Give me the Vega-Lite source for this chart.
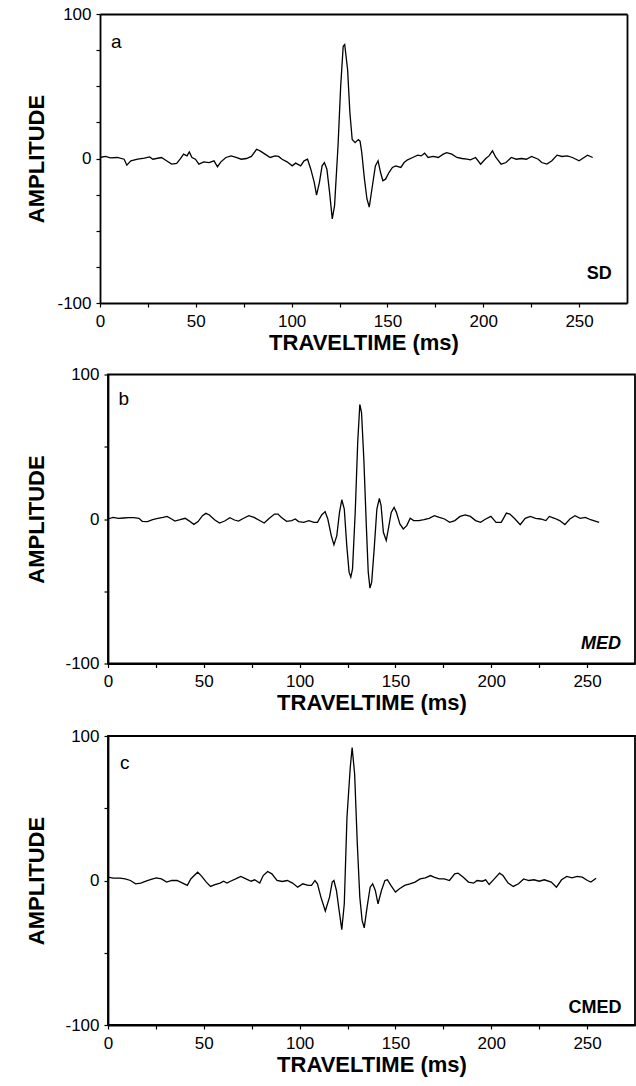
{
  "$schema": "https://vega.github.io/schema/vega-lite/v6.json",
  "background": "white",
  "padding": {"left": 24, "top": 5, "right": 2, "bottom": 3},
  "spacing": 11.5,
  "config": {
    "view": {"stroke": "black", "strokeWidth": 1.8},
    "axis": {
      "grid": false,
      "domainColor": "black", "domainWidth": 1.8,
      "tickColor": "black", "tickWidth": 1.2, "tickSize": 4,
      "labelFont": "Liberation Sans", "labelFontSize": 17, "labelColor": "black",
      "titleFont": "Liberation Sans", "titleFontSize": 22, "titleFontWeight": "bold", "titleColor": "black"
    },
    "text": {"font": "Liberation Sans", "color": "black"}
  },
  "datasets": {
    "sd": [
      {"t":0,"a":0.7},{"t":2.8,"a":1.4},{"t":5.5,"a":0.5},{"t":9.0,"a":0.7},{"t":12.6,"a":-0.5},{"t":14.0,"a":-4.6},{"t":16.1,"a":-1.6},{"t":19.7,"a":-0.5},{"t":23.2,"a":0.2},{"t":25.9,"a":1.1},{"t":27.6,"a":-0.5},{"t":29.4,"a":0},{"t":32.1,"a":0.7},{"t":34.7,"a":-1.6},{"t":37.4,"a":-3.9},{"t":40.0,"a":-3.4},{"t":41.8,"a":-0.5},{"t":43.6,"a":3.0},{"t":45.4,"a":1.8},{"t":46.6,"a":4.6},{"t":48.0,"a":0.7},{"t":49.8,"a":-0.5},{"t":51.6,"a":-3.9},{"t":54.2,"a":-2.3},{"t":56.9,"a":-2.8},{"t":59.5,"a":-1.6},{"t":61.3,"a":-5.7},{"t":63.1,"a":-2.3},{"t":65.7,"a":0.7},{"t":68.4,"a":1.8},{"t":71.0,"a":0.7},{"t":73.7,"a":-0.5},{"t":76.4,"a":0},{"t":79.0,"a":1.4},{"t":81.7,"a":6.4},{"t":83.5,"a":5.3},{"t":86.1,"a":3.0},{"t":88.8,"a":0.7},{"t":91.4,"a":1.8},{"t":93.2,"a":1.4},{"t":95.0,"a":-0.5},{"t":97.6,"a":-2.3},{"t":100.3,"a":-5.1},{"t":102.1,"a":-3.2},{"t":104.7,"a":-5.1},{"t":106.5,"a":-1.6},{"t":108.3,"a":-0.5},{"t":110.0,"a":-7.4},{"t":111.8,"a":-16.5},{"t":113.0,"a":-25.3},{"t":114.5,"a":-16.5},{"t":115.9,"a":-5.1},{"t":117.1,"a":-2.8},{"t":118.4,"a":-7.4},{"t":119.8,"a":-23.4},{"t":121.2,"a":-41.8},{"t":122.4,"a":-32.6},{"t":124.2,"a":8.7},{"t":125.6,"a":50.1},{"t":126.9,"a":77.7},{"t":127.7,"a":78.9},{"t":129.2,"a":61.6},{"t":130.4,"a":31.7},{"t":131.6,"a":13.1},{"t":133.1,"a":11.0},{"t":134.8,"a":13.1},{"t":135.7,"a":12.0},{"t":136.6,"a":4.1},{"t":138.0,"a":-14.3},{"t":139.3,"a":-28.0},{"t":140.5,"a":-33.6},{"t":141.9,"a":-21.1},{"t":143.7,"a":-5.1},{"t":145.1,"a":-1.6},{"t":146.4,"a":-9.7},{"t":147.6,"a":-15.4},{"t":149.0,"a":-14.3},{"t":150.8,"a":-9.7},{"t":152.6,"a":-6.2},{"t":154.3,"a":-5.1},{"t":157.0,"a":-6.2},{"t":158.7,"a":-2.8},{"t":160.5,"a":-0.9},{"t":163.2,"a":0.7},{"t":165.8,"a":2.3},{"t":167.6,"a":1.8},{"t":169.4,"a":3.7},{"t":171.2,"a":0.7},{"t":173.8,"a":1.4},{"t":176.5,"a":0.7},{"t":179.1,"a":3.0},{"t":180.9,"a":4.1},{"t":183.6,"a":3.0},{"t":186.2,"a":0.7},{"t":188.9,"a":0},{"t":191.5,"a":-0.5},{"t":193.3,"a":-0.9},{"t":196.0,"a":0.7},{"t":198.6,"a":-3.9},{"t":201.3,"a":0},{"t":203.0,"a":1.8},{"t":204.8,"a":5.3},{"t":206.6,"a":0.7},{"t":209.3,"a":-3.9},{"t":211.9,"a":-2.8},{"t":214.6,"a":0.7},{"t":217.2,"a":-0.5},{"t":219.9,"a":0},{"t":222.5,"a":-0.5},{"t":225.2,"a":1.4},{"t":228.7,"a":-0.5},{"t":230.5,"a":-2.8},{"t":233.2,"a":-3.9},{"t":235.8,"a":-1.6},{"t":238.5,"a":2.3},{"t":241.1,"a":1.4},{"t":243.8,"a":1.8},{"t":246.5,"a":0.7},{"t":250.0,"a":-1.6},{"t":251.8,"a":0},{"t":254.4,"a":2.3},{"t":257.1,"a":0.7}
    ],
    "med": [
      {"t":0,"a":0},{"t":2.7,"a":1.1},{"t":5.4,"a":0.5},{"t":8.1,"a":0.7},{"t":10.8,"a":0.9},{"t":13.4,"a":0.9},{"t":16.1,"a":0.5},{"t":17.9,"a":-1.6},{"t":20.6,"a":-1.8},{"t":23.3,"a":-0.5},{"t":26.0,"a":0.5},{"t":28.7,"a":1.1},{"t":30.8,"a":1.8},{"t":33.2,"a":0},{"t":34.9,"a":-1.4},{"t":37.6,"a":-0.5},{"t":40.3,"a":0.5},{"t":42.1,"a":-1.1},{"t":44.8,"a":-3.7},{"t":47.0,"a":-1.8},{"t":49.3,"a":2.3},{"t":51.1,"a":3.9},{"t":52.9,"a":2.8},{"t":55.6,"a":-0.5},{"t":58.2,"a":-2.8},{"t":60.9,"a":-1.4},{"t":63.6,"a":0.9},{"t":66.0,"a":-0.7},{"t":68.1,"a":-1.4},{"t":70.8,"a":0.5},{"t":73.5,"a":2.3},{"t":76.2,"a":1.1},{"t":78.9,"a":-0.9},{"t":81.5,"a":-2.8},{"t":84.2,"a":0.5},{"t":86.9,"a":3.4},{"t":88.7,"a":3.4},{"t":90.5,"a":1.1},{"t":93.2,"a":-1.6},{"t":95.9,"a":-1.1},{"t":97.7,"a":0},{"t":99.5,"a":-1.8},{"t":102.2,"a":-2.3},{"t":104.8,"a":-1.1},{"t":107.5,"a":-2.3},{"t":109.3,"a":-2.3},{"t":111.5,"a":2.8},{"t":113.3,"a":5.1},{"t":114.7,"a":0},{"t":116.5,"a":-11.5},{"t":117.9,"a":-17.9},{"t":119.4,"a":-11.5},{"t":120.8,"a":4.6},{"t":122.0,"a":13.3},{"t":123.3,"a":6.9},{"t":124.6,"a":-18.4},{"t":125.8,"a":-36.8},{"t":126.7,"a":-40.2},{"t":127.6,"a":-34.5},{"t":129.0,"a":4.6},{"t":130.3,"a":52.9},{"t":131.4,"a":79.3},{"t":132.3,"a":73.6},{"t":133.5,"a":41.4},{"t":134.8,"a":-4.6},{"t":135.8,"a":-36.8},{"t":136.7,"a":-47.8},{"t":137.6,"a":-43.7},{"t":138.9,"a":-20.7},{"t":140.3,"a":6.9},{"t":141.6,"a":14.3},{"t":142.5,"a":9.2},{"t":143.7,"a":-9.2},{"t":145.2,"a":-14.9},{"t":146.6,"a":-4.6},{"t":147.8,"a":4.6},{"t":149.3,"a":8.0},{"t":150.5,"a":4.6},{"t":152.3,"a":-3.4},{"t":154.1,"a":-6.9},{"t":155.9,"a":-4.6},{"t":157.7,"a":0.5},{"t":159.5,"a":-1.1},{"t":162.2,"a":-1.1},{"t":164.9,"a":-0.5},{"t":167.6,"a":0.5},{"t":170.3,"a":2.3},{"t":172.9,"a":1.1},{"t":175.6,"a":0},{"t":178.3,"a":-2.3},{"t":181.0,"a":-1.1},{"t":183.7,"a":1.8},{"t":186.4,"a":2.8},{"t":189.1,"a":1.8},{"t":191.8,"a":-1.1},{"t":194.4,"a":-2.3},{"t":197.1,"a":0},{"t":199.8,"a":1.8},{"t":202.5,"a":-2.3},{"t":205.2,"a":-2.3},{"t":207.9,"a":4.1},{"t":209.7,"a":3.4},{"t":212.4,"a":0},{"t":215.1,"a":-3.9},{"t":217.7,"a":0.5},{"t":220.4,"a":1.8},{"t":223.1,"a":0.5},{"t":225.8,"a":0},{"t":228.5,"a":-1.1},{"t":230.3,"a":1.8},{"t":233.0,"a":0.5},{"t":235.7,"a":-1.1},{"t":238.4,"a":-3.9},{"t":241.0,"a":0},{"t":243.7,"a":2.3},{"t":246.4,"a":0.5},{"t":249.1,"a":1.1},{"t":251.8,"a":-0.5},{"t":256.3,"a":-2.3}
    ],
    "cmed": [
      {"t":0,"a":2.3},{"t":2.7,"a":1.6},{"t":6.3,"a":1.6},{"t":9.0,"a":1.1},{"t":11.7,"a":0},{"t":14.4,"a":-2.3},{"t":17.1,"a":-1.8},{"t":19.8,"a":-0.5},{"t":22.5,"a":0.7},{"t":25.2,"a":1.8},{"t":27.9,"a":1.1},{"t":30.6,"a":-1.1},{"t":33.3,"a":0},{"t":36.0,"a":0},{"t":38.7,"a":-1.6},{"t":41.4,"a":-3.4},{"t":43.2,"a":1.1},{"t":45.0,"a":3.4},{"t":46.8,"a":5.7},{"t":48.6,"a":3.4},{"t":51.3,"a":-1.1},{"t":53.5,"a":-4.1},{"t":55.8,"a":-2.8},{"t":58.5,"a":-1.8},{"t":60.3,"a":-0.5},{"t":62.1,"a":-1.8},{"t":63.9,"a":-0.5},{"t":66.6,"a":1.1},{"t":69.3,"a":2.8},{"t":72.0,"a":1.1},{"t":74.7,"a":-0.5},{"t":76.5,"a":0.5},{"t":79.2,"a":-1.8},{"t":81.0,"a":3.4},{"t":83.3,"a":6.2},{"t":85.5,"a":4.6},{"t":88.2,"a":0},{"t":90.9,"a":-0.7},{"t":93.6,"a":0},{"t":96.3,"a":-1.8},{"t":99.0,"a":-4.6},{"t":101.7,"a":-2.3},{"t":104.4,"a":-3.4},{"t":106.2,"a":-3.4},{"t":108.0,"a":0},{"t":109.3,"a":-2.3},{"t":111.1,"a":-11.5},{"t":113.4,"a":-21.1},{"t":115.6,"a":-11.5},{"t":117.0,"a":-1.1},{"t":117.9,"a":0},{"t":119.2,"a":-6.9},{"t":120.6,"a":-20.7},{"t":122.0,"a":-34.0},{"t":123.3,"a":-16.1},{"t":124.7,"a":43.6},{"t":126.4,"a":78.0},{"t":127.4,"a":92.0},{"t":128.7,"a":73.7},{"t":130.1,"a":25.3},{"t":131.4,"a":-11.5},{"t":132.6,"a":-27.6},{"t":133.7,"a":-32.8},{"t":135.2,"a":-18.4},{"t":136.8,"a":-4.6},{"t":138.1,"a":-2.3},{"t":139.5,"a":-6.9},{"t":140.9,"a":-16.1},{"t":142.7,"a":-6.9},{"t":144.5,"a":0},{"t":145.8,"a":0.5},{"t":147.6,"a":-3.4},{"t":150.0,"a":-8.0},{"t":152.1,"a":-5.7},{"t":154.8,"a":-3.4},{"t":157.5,"a":-2.3},{"t":160.2,"a":-1.1},{"t":162.9,"a":1.1},{"t":165.6,"a":1.8},{"t":168.3,"a":3.4},{"t":170.1,"a":2.3},{"t":172.8,"a":1.1},{"t":175.5,"a":1.1},{"t":178.2,"a":0},{"t":180.9,"a":4.6},{"t":182.7,"a":5.1},{"t":185.4,"a":2.3},{"t":188.1,"a":-1.1},{"t":190.8,"a":-1.8},{"t":192.6,"a":0},{"t":195.3,"a":-0.5},{"t":197.1,"a":0.5},{"t":198.9,"a":-2.8},{"t":201.6,"a":1.1},{"t":204.3,"a":5.1},{"t":206.1,"a":3.4},{"t":208.8,"a":-1.8},{"t":211.5,"a":-4.1},{"t":214.2,"a":-2.3},{"t":216.9,"a":1.1},{"t":219.6,"a":0},{"t":222.3,"a":0.5},{"t":225.0,"a":-0.5},{"t":227.7,"a":0.5},{"t":231.3,"a":-1.1},{"t":234.0,"a":-4.6},{"t":236.7,"a":0.5},{"t":239.4,"a":2.8},{"t":242.1,"a":1.8},{"t":244.8,"a":2.8},{"t":247.5,"a":2.3},{"t":250.2,"a":0},{"t":252.0,"a":-1.1},{"t":254.7,"a":1.6}
    ]
  },
  "vconcat": [
    {
      "width": 519, "height": 289,
      "view": {"stroke": null},
      "resolve": {"axis": {"x": "independent", "y": "independent"}},
      "layer": [
        {
          "data": {"name": "sd"},
          "mark": {"type": "line", "color": "black", "strokeWidth": 1.3},
          "encoding": {
            "x": {"field": "t", "type": "quantitative", "scale": {"domain": [0, 275], "range": [-8, 519], "nice": false},
              "axis": {"title": "TRAVELTIME (ms)", "values": [0,25,50,75,100,125,150,175,200,225,250], "labelExpr": "datum.value % 50 === 0 ? datum.label : ''", "labelFlush": false, "labelPadding": 6, "titlePadding": 3}},
            "y": {"field": "a", "type": "quantitative", "scale": {"domain": [-100, 100], "nice": false},
              "axis": {"title": "AMPLITUDE", "offset": 8, "values": [-100,-75,-50,-25,0,25,50,75,100], "labelExpr": "datum.value === 100 ? '100' : datum.value === 0 ? '0' : datum.value === -100 ? '-100' : ''", "labelPadding": 5, "titleBaseline": "middle", "titleX": -64, "titleY": 144.5}}
          }
        },
        {
          "data": {"values": [{"t": 0, "a": 0}]},
          "mark": {"type": "point", "opacity": 0},
          "encoding": {
            "x": {"field": "t", "type": "quantitative", "axis": {"orient": "top", "title": null, "labels": false, "ticks": false}},
            "y": {"field": "a", "type": "quantitative", "axis": {"orient": "right", "title": null, "labels": false, "ticks": false}}
          }
        },
        {
          "data": {"values": [{"t": 5.7, "a": 76.5, "s": "a"}]},
          "mark": {"type": "text", "align": "left", "baseline": "alphabetic", "fontSize": 19},
          "encoding": {"x": {"field": "t", "type": "quantitative", "axis": null}, "y": {"field": "a", "type": "quantitative", "axis": null}, "text": {"field": "s"}}
        },
        {
          "data": {"values": [{"t": 267, "a": -83.6, "s": "SD"}]},
          "mark": {"type": "text", "align": "right", "baseline": "alphabetic", "fontSize": 18, "fontWeight": "bold"},
          "encoding": {"x": {"field": "t", "type": "quantitative", "axis": null}, "y": {"field": "a", "type": "quantitative", "axis": null}, "text": {"field": "s"}}
        }
      ]
    },
    {
      "width": 527, "height": 289,
      "layer": [
        {
          "data": {"name": "med"},
          "mark": {"type": "line", "color": "black", "strokeWidth": 1.3},
          "encoding": {
            "x": {"field": "t", "type": "quantitative", "scale": {"domain": [0, 275], "nice": false},
              "axis": {"title": "TRAVELTIME (ms)", "values": [0,25,50,75,100,125,150,175,200,225,250], "labelExpr": "datum.value % 50 === 0 ? datum.label : ''", "labelFlush": false, "labelPadding": 6, "titlePadding": 3}},
            "y": {"field": "a", "type": "quantitative", "scale": {"domain": [-100, 100], "nice": false},
              "axis": {"title": "AMPLITUDE", "values": [-100,-75,-50,-25,0,25,50,75,100], "labelExpr": "datum.value === 100 ? '100' : datum.value === 0 ? '0' : datum.value === -100 ? '-100' : ''", "labelPadding": 5, "titleBaseline": "middle", "titleX": -72, "titleY": 144.5}}
          }
        },
        {
          "data": {"values": [{"t": 5.5, "a": 79.2, "s": "b"}]},
          "mark": {"type": "text", "align": "left", "baseline": "alphabetic", "fontSize": 19},
          "encoding": {"x": {"field": "t", "type": "quantitative"}, "y": {"field": "a", "type": "quantitative"}, "text": {"field": "s"}}
        },
        {
          "data": {"values": [{"t": 267.7, "a": -90.3, "s": "MED"}]},
          "mark": {"type": "text", "align": "right", "baseline": "alphabetic", "fontSize": 18, "fontWeight": "bold", "fontStyle": "italic"},
          "encoding": {"x": {"field": "t", "type": "quantitative"}, "y": {"field": "a", "type": "quantitative"}, "text": {"field": "s"}}
        }
      ]
    },
    {
      "width": 527, "height": 289,
      "layer": [
        {
          "data": {"name": "cmed"},
          "mark": {"type": "line", "color": "black", "strokeWidth": 1.3},
          "encoding": {
            "x": {"field": "t", "type": "quantitative", "scale": {"domain": [0, 275], "nice": false},
              "axis": {"title": "TRAVELTIME (ms)", "values": [0,25,50,75,100,125,150,175,200,225,250], "labelExpr": "datum.value % 50 === 0 ? datum.label : ''", "labelFlush": false, "labelPadding": 6, "titlePadding": 3}},
            "y": {"field": "a", "type": "quantitative", "scale": {"domain": [-100, 100], "nice": false},
              "axis": {"title": "AMPLITUDE", "values": [-100,-75,-50,-25,0,25,50,75,100], "labelExpr": "datum.value === 100 ? '100' : datum.value === 0 ? '0' : datum.value === -100 ? '-100' : ''", "labelPadding": 5, "titleBaseline": "middle", "titleX": -72, "titleY": 144.5}}
          }
        },
        {
          "data": {"values": [{"t": 6.3, "a": 77.2, "s": "c"}]},
          "mark": {"type": "text", "align": "left", "baseline": "alphabetic", "fontSize": 19},
          "encoding": {"x": {"field": "t", "type": "quantitative"}, "y": {"field": "a", "type": "quantitative"}, "text": {"field": "s"}}
        },
        {
          "data": {"values": [{"t": 268, "a": -91.5, "s": "CMED"}]},
          "mark": {"type": "text", "align": "right", "baseline": "alphabetic", "fontSize": 18, "fontWeight": "bold"},
          "encoding": {"x": {"field": "t", "type": "quantitative"}, "y": {"field": "a", "type": "quantitative"}, "text": {"field": "s"}}
        }
      ]
    }
  ]
}
